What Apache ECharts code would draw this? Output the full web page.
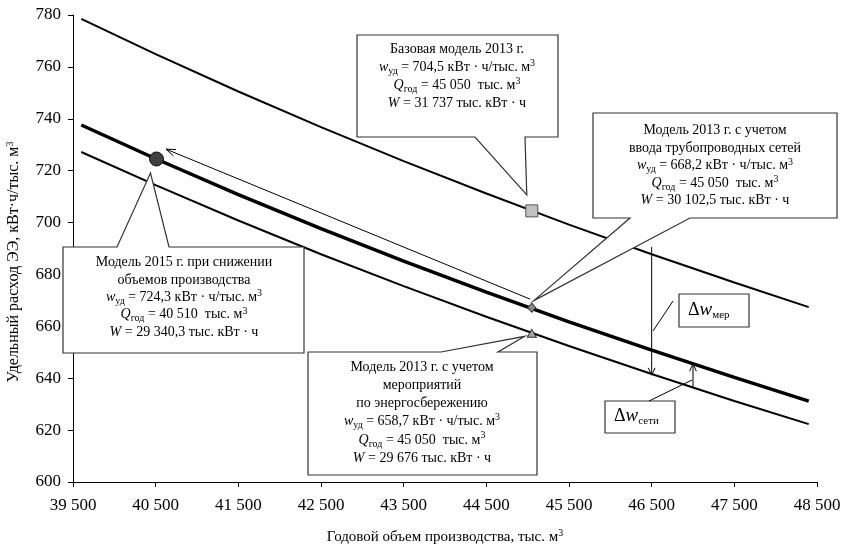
<!DOCTYPE html>
<html><head><meta charset="utf-8">
<style>html,body{margin:0;padding:0;background:#fff}#c{width:846px;height:547px}</style>
<script src="https://cdn.jsdelivr.net/npm/echarts@6/dist/echarts.min.js"></script>
</head><body><div id="c"></div>
<script>
// ---- data ----
const volumes      = [39600, 40500, 41500, 42500, 43500, 44500, 45500, 46500, 47500, 48400];
const baseModel    = [778.5, 764.9, 750.5, 736.8, 723.7, 711.2, 699.2, 687.8, 676.9, 667.4];
const networkModel = [737.6, 724.6, 710.8, 697.7, 685.1, 673.2, 661.7, 650.8, 640.3, 631.2];
const savingModel  = [727.2, 714.4, 700.8, 687.8, 675.5, 663.7, 652.4, 641.6, 631.2, 622.3];
const pointBase    = [45050, 704.5];
const pointNetwork = [45050, 667.2];
const pointSaving  = [45050, 657.3];
const point2015    = [40510, 724.5];
const xTickValues  = [39500, 40500, 41500, 42500, 43500, 44500, 45500, 46500, 47500, 48500];
const xTickLabels  = ['39 500', '40 500', '41 500', '42 500', '43 500', '44 500', '45 500', '46 500', '47 500', '48 500'];
const arrowShift   = [[45028, 670.5], [40625, 728.3]];
const arrowMer     = [[46500, 690.6], [46500, 641.2]];
const arrowNet     = [[47000, 636.4], [47000, 645.5]];

const FF = '"Liberation Serif", "Times New Roman", serif';
const chart = echarts.init(document.getElementById('c'), null, {renderer: 'canvas'});

function pairs(xs, ys) { return xs.map((x, i) => [x, ys[i]]); }

chart.setOption({
  animation: false,
  backgroundColor: '#fff',
  grid: {left: 73, right: 29, top: 15, bottom: 65, containLabel: false, outerBoundsMode: 'none'},
  xAxis: {
    type: 'value', min: 39500, max: 48500,
    name: 'Годовой объем производства, тыс. м{sup|3}', nameLocation: 'middle', nameGap: 46,
    nameTextStyle: {fontFamily: FF, fontSize: 15, color: '#000', lineHeight: 18,
      rich: {sup: {fontFamily: FF, fontSize: 10, lineHeight: 10, verticalAlign: 'top', color: '#000'}}},
    axisLine: {show: true, onZero: false, lineStyle: {color: '#000', width: 1}},
    axisTick: {show: true, length: 5, customValues: xTickValues, lineStyle: {color: '#000'}},
    axisLabel: {customValues: xTickValues, margin: 15, fontFamily: FF, fontSize: 17, color: '#000',
      formatter: v => xTickLabels[xTickValues.indexOf(v)] || ''},
    splitLine: {show: false}
  },
  yAxis: {
    type: 'value', min: 600, max: 780, interval: 20,
    axisLine: {show: true, lineStyle: {color: '#000', width: 1}},
    axisTick: {show: true, length: 5, lineStyle: {color: '#000'}},
    axisLabel: {margin: 12, fontFamily: FF, fontSize: 17, color: '#000'},
    splitLine: {show: false}
  },
  series: [
    {type: 'line', data: pairs(volumes, baseModel), showSymbol: false, symbol: 'none', z: 2,
      lineStyle: {color: '#000', width: 2}},
    {type: 'line', data: pairs(volumes, networkModel), showSymbol: false, symbol: 'none', z: 2,
      lineStyle: {color: '#000', width: 3.5}},
    {type: 'line', data: pairs(volumes, savingModel), showSymbol: false, symbol: 'none', z: 2,
      lineStyle: {color: '#000', width: 2}},
    {type: 'scatter', data: [point2015], symbol: 'circle', symbolSize: 14, zlevel: 1, z: 4,
      itemStyle: {color: '#404040', borderColor: '#111', borderWidth: 1, opacity: 1}},
    {type: 'scatter', data: [pointBase], symbol: 'rect', symbolSize: 12, zlevel: 1, z: 4,
      itemStyle: {color: '#c0c0c0', borderColor: '#555', borderWidth: 1, opacity: 1}},
    {type: 'scatter', data: [pointNetwork], symbol: 'diamond', symbolSize: [8, 9], zlevel: 1, z: 4,
      itemStyle: {color: '#8a8a8a', borderColor: '#333', borderWidth: 1, opacity: 1}},
    {type: 'scatter', data: [pointSaving], symbol: 'triangle', symbolSize: [9, 8], zlevel: 1, z: 4,
      itemStyle: {color: '#a8a8a8', borderColor: '#333', borderWidth: 1, opacity: 1}}
  ]
});

function px(p) { return chart.convertToPixel({gridIndex: 0}, p); }
function head(tip, from, len, halfDeg) {
  const a = Math.atan2(from[1] - tip[1], from[0] - tip[0]);
  const h = halfDeg * Math.PI / 180;
  return [[tip[0] + len * Math.cos(a + h), tip[1] + len * Math.sin(a + h)], tip,
          [tip[0] + len * Math.cos(a - h), tip[1] + len * Math.sin(a - h)]];
}
function line(points, w, z) {
  return {type: 'polyline', z: z || 6, shape: {points: points}, style: {stroke: '#000', lineWidth: w, fill: null}};
}
function callout(points) {
  return {type: 'polygon', z: 8, shape: {points: points}, style: {fill: '#fff', stroke: '#333', lineWidth: 1.2}};
}
const rich = {
  i:   {fontFamily: FF, fontSize: 14, fontStyle: 'italic', lineHeight: 14},
  sub: {fontFamily: FF, fontSize: 10, lineHeight: 10, verticalAlign: 'bottom'},
  sup: {fontFamily: FF, fontSize: 10, lineHeight: 10, verticalAlign: 'top'}
};
function ctext(x, y, lh, str) {
  return {type: 'text', z: 9, x: x, y: y,
    style: {text: str, fill: '#000', fontFamily: FF, fontSize: 14, lineHeight: lh,
      align: 'center', verticalAlign: 'top', textAlign: 'center', textVerticalAlign: 'top', rich: rich}};
}
function dtext(x, y, sub) {
  return {type: 'text', z: 9, x: x, y: y,
    style: {text: '{d|Δ}{w|w}{s|' + sub + '}', fill: '#000', fontFamily: FF, fontSize: 18, lineHeight: 22,
      align: 'left', verticalAlign: 'middle', textAlign: 'left', textVerticalAlign: 'middle',
      rich: {
        d: {fontFamily: FF, fontSize: 18, lineHeight: 22},
        w: {fontFamily: FF, fontSize: 19, fontStyle: 'italic', lineHeight: 22},
        s: {fontFamily: FF, fontSize: 11, lineHeight: 11, verticalAlign: 'bottom'}
      }}};
}

function draw() {
  const pB = px(pointBase), pN = px(pointNetwork), pS = px(pointSaving), p15 = px(point2015);
  const a0 = px(arrowShift[0]), a1 = px(arrowShift[1]);
  const m0 = px(arrowMer[0]), m1 = px(arrowMer[1]);
  const n0 = px(arrowNet[0]), n1 = px(arrowNet[1]);
  const tipB = [pB[0] - 5, pB[1] - 16], tipN = [pN[0] + 2, pN[1] - 7];
  const tipS = [pS[0] - 7, pS[1] + 3], tip15 = [p15[0] - 6, p15[1] + 14];
  const m3 = 'м{sup|3}';
  const els = [
    // long thin arrow
    line([a0, a1], 1, 5), line(head(a1, a0, 10, 20), 1, 5),
    // Δw_мер arrow
    line([m0, m1], 1, 5), line(head(m1, m0, 8, 25), 1, 5),
    // Δw_сети arrow
    line([n0, n1], 1, 5), line(head(n1, n0, 8, 25), 1, 5),
    // callouts
    callout([[357, 35], [558, 35], [558, 137], [525, 137], tipB, [475, 137], [357, 137]]),
    callout([[593, 113], [837, 113], [837, 218], [690, 218], tipN, [630, 218], [593, 218]]),
    callout([[63, 247], [117, 247], tip15, [169, 247], [304, 247], [304, 353], [63, 353]]),
    callout([[308, 352], [441, 352], tipS, [498, 352], [537, 352], [537, 475], [308, 475]]),
    ctext(457, 40, 18, 'Базовая модель 2013 г.\n{i|w}{sub|уд} = 704,5 кВт · ч/тыс. ' + m3 + '\n{i|Q}{sub|год} = 45 050  тыс. ' + m3 + '\n{i|W} = 31 737 тыс. кВт · ч'),
    ctext(715, 122, 17.5, 'Модель 2013 г. с учетом\nввода трубопроводных сетей\n{i|w}{sub|уд} = 668,2 кВт · ч/тыс. ' + m3 + '\n{i|Q}{sub|год} = 45 050  тыс. ' + m3 + '\n{i|W} = 30 102,5 тыс. кВт · ч'),
    ctext(184, 254, 17.3, 'Модель 2015 г. при снижении\nобъемов производства\n{i|w}{sub|уд} = 724,3 кВт · ч/тыс. ' + m3 + '\n{i|Q}{sub|год} = 40 510  тыс. ' + m3 + '\n{i|W} = 29 340,3 тыс. кВт · ч'),
    ctext(422, 358, 18.2, 'Модель 2013 г. с учетом\nмероприятий\nпо энергосбережению\n{i|w}{sub|уд} = 658,7 кВт · ч/тыс. ' + m3 + '\n{i|Q}{sub|год} = 45 050  тыс. ' + m3 + '\n{i|W} = 29 676 тыс. кВт · ч'),
    // Δ label boxes
    {type: 'rect', z: 8, shape: {x: 679, y: 294, width: 70, height: 33}, style: {fill: '#fff', stroke: '#333', lineWidth: 1.2}},
    line([[673, 301], [653, 331]], 1, 8),
    dtext(688, 310, 'мер'),
    {type: 'rect', z: 8, shape: {x: 605, y: 401, width: 70, height: 32}, style: {fill: '#fff', stroke: '#333', lineWidth: 1.2}},
    line([[649, 401], [692, 380]], 1, 8),
    dtext(614, 416, 'сети'),
    // y axis name
    {type: 'text', z: 9, x: 14, y: 262, rotation: Math.PI / 2,
      style: {text: 'Удельный расход ЭЭ, кВт·ч/тыс. м{sup|3}', fill: '#000', fontFamily: FF, fontSize: 16, lineHeight: 18,
        align: 'center', verticalAlign: 'middle', textAlign: 'center', textVerticalAlign: 'middle',
        rich: {sup: {fontFamily: FF, fontSize: 10, lineHeight: 10, verticalAlign: 'top'}}}}
  ];
  chart.setOption({graphic: {elements: els}});
}
draw();
</script>
</body></html>
